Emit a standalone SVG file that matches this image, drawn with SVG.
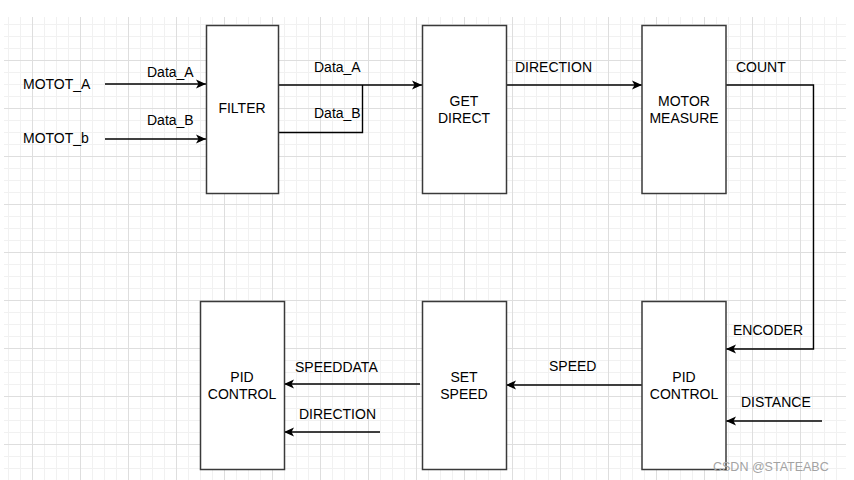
<svg xmlns="http://www.w3.org/2000/svg" width="854" height="480" viewBox="0 0 854 480">
<style>
.box{fill:#fff;stroke:#3a3a3a;stroke-width:1.5}
.t{font-family:"Liberation Sans",Arial,sans-serif;font-size:14px;fill:#000}
.c{text-anchor:middle}
.ln{fill:none;stroke:#000;stroke-width:1.4}
.arr{marker-end:url(#ah)}
.wm{font-family:"Liberation Sans",Arial,sans-serif;font-size:12.5px;fill:#a3a3a3}
</style>
<defs>
<pattern id="grid" patternUnits="userSpaceOnUse" x="32" y="12" width="48" height="48">
<path d="M12.5 0V48M24.5 0V48M36.5 0V48M0 12.5H48M0 24.5H48M0 36.5H48" stroke="#f1f1f1" stroke-width="1" fill="none"/>
<path d="M0.5 0V48M0 0.5H48" stroke="#dedede" stroke-width="1" fill="none"/>
</pattern>
<marker id="ah" markerUnits="userSpaceOnUse" markerWidth="12" markerHeight="10" refX="11" refY="5" orient="auto">
<path d="M1 0.5L11 5L1 9.5L3.5 5Z" fill="#000"/>
</marker>
</defs>
<rect width="854" height="480" fill="#fff"/>
<rect x="4" y="17" width="842" height="463" fill="url(#grid)"/>

<g id="connectors">
<path class="ln arr" d="M105 84H206"/>
<path class="ln arr" d="M105 139H206"/>
<path class="ln arr" d="M278 85H422"/>
<path class="ln" d="M278 132.5H362.5V85"/>
<path class="ln arr" d="M506 85H642"/>
<path class="ln arr" d="M726 85H813.5V349H726"/>
<path class="ln arr" d="M822 421H726"/>
<path class="ln arr" d="M642 385H506"/>
<path class="ln arr" d="M420 384H284"/>
<path class="ln arr" d="M380 432H284"/>
<text class="t" x="23" y="89">MOTOT_A</text>
<text class="t" x="23" y="143">MOTOT_b</text>
<text class="t" x="147" y="77">Data_A</text>
<text class="t" x="147" y="125">Data_B</text>
<text class="t" x="314" y="72">Data_A</text>
<text class="t" x="314" y="118">Data_B</text>
<text class="t" x="515" y="72">DIRECTION</text>
<text class="t" x="736" y="72">COUNT</text>
<text class="t" x="733" y="335">ENCODER</text>
<text class="t" x="741" y="407">DISTANCE</text>
<text class="t" x="549" y="371">SPEED</text>
<text class="t" x="295" y="372">SPEEDDATA</text>
<text class="t" x="299" y="419">DIRECTION</text>
</g>

<g id="filter">
<rect class="box" x="206.5" y="25.5" width="72" height="168"/>
<text class="t c" x="242" y="113">FILTER</text>
</g>
<g id="get-direct">
<rect class="box" x="422.5" y="25.5" width="84" height="168"/>
<text class="t c" x="464" y="106">GET</text>
<text class="t c" x="464" y="123">DIRECT</text>
</g>
<g id="motor-measure">
<rect class="box" x="642" y="25.5" width="84" height="168"/>
<text class="t c" x="684" y="106">MOTOR</text>
<text class="t c" x="684" y="123">MEASURE</text>
</g>
<g id="pid-control-left">
<rect class="box" x="200.5" y="301.5" width="84" height="168"/>
<text class="t c" x="242" y="382">PID</text>
<text class="t c" x="242" y="399">CONTROL</text>
</g>
<g id="set-speed">
<rect class="box" x="422.5" y="301.5" width="84" height="168"/>
<text class="t c" x="464" y="382">SET</text>
<text class="t c" x="464" y="399">SPEED</text>
</g>
<g id="pid-control-right">
<rect class="box" x="642" y="301.5" width="84" height="168"/>
<text class="t c" x="684" y="382">PID</text>
<text class="t c" x="684" y="399">CONTROL</text>
</g>
<text class="wm" x="713" y="471">CSDN @STATEABC</text>
</svg>
